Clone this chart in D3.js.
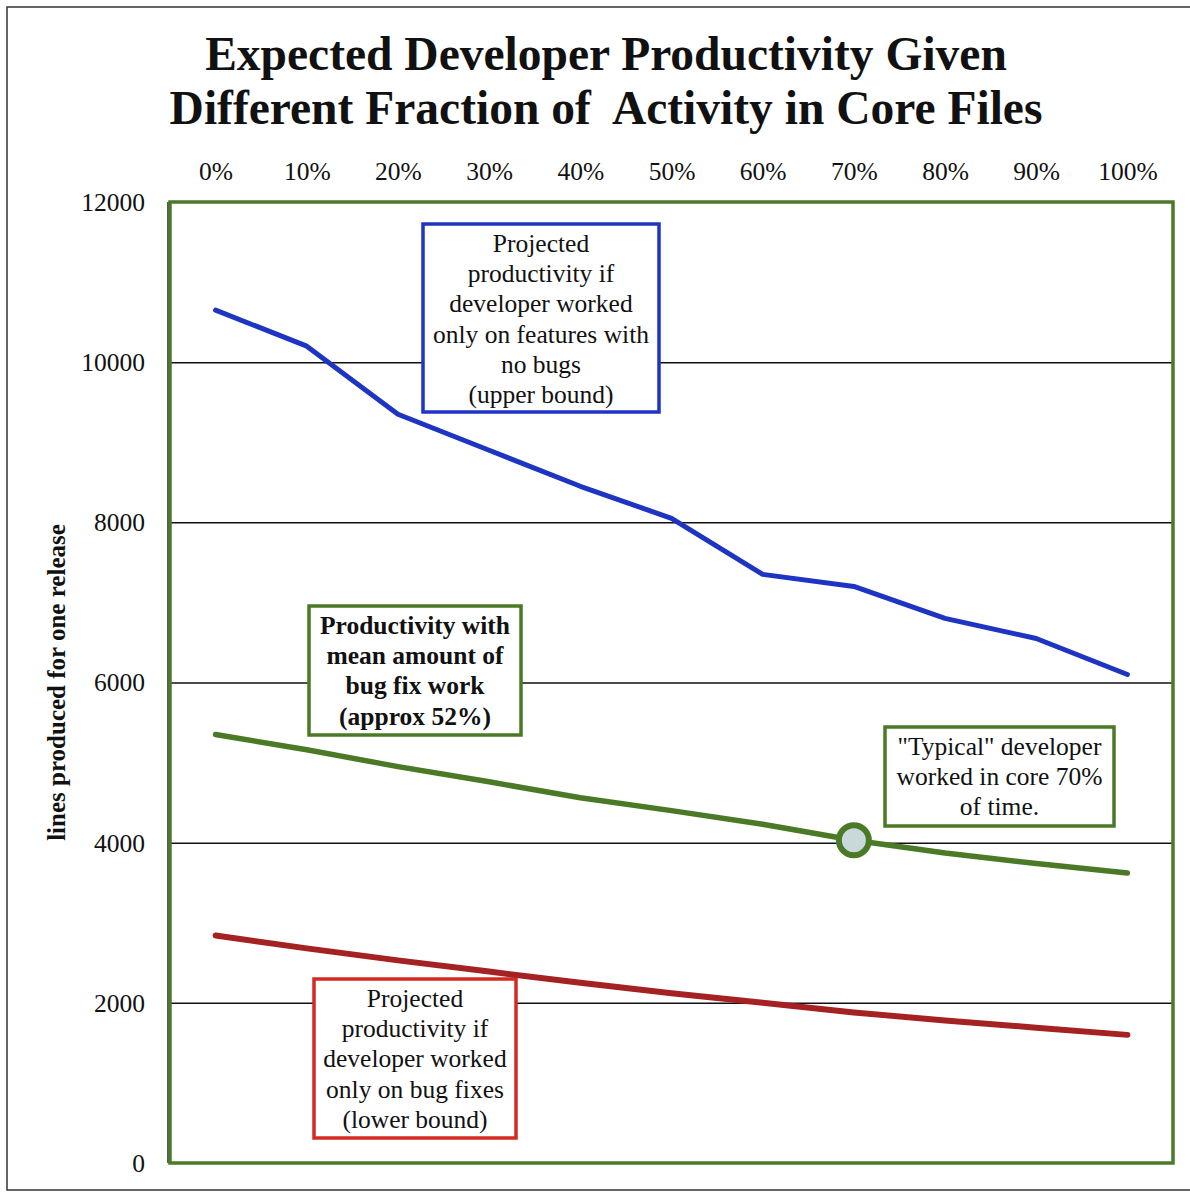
<!DOCTYPE html>
<html>
<head>
<meta charset="utf-8">
<script src="https://cdn.jsdelivr.net/npm/d3@7"></script>
<style>
  html, body { margin: 0; padding: 0; background: #fff; }
  svg { display: block; }
  text { font-family: "Liberation Serif", "DejaVu Serif", serif; fill: #111; }
</style>
</head>
<body>
<svg id="chart" width="1190" height="1192"></svg>
<script>
// ---- data ----
const categories = ["0%", "10%", "20%", "30%", "40%", "50%", "60%", "70%", "80%", "90%", "100%"];
const upperBound = [10650, 10200, 9350, 8900, 8450, 8050, 7350, 7200, 6800, 6550, 6100];
const meanProductivity = [5350, 5160, 4950, 4760, 4560, 4400, 4230, 4030, 3870, 3740, 3620];
const lowerBound = [2840, 2680, 2530, 2390, 2250, 2120, 2000, 1880, 1780, 1690, 1600];
const yTicks = [0, 2000, 4000, 6000, 8000, 10000, 12000];
const titleLines = ["Expected Developer Productivity Given", "Different Fraction of  Activity in Core Files"];
const yLabel = "lines produced for one release";
const typicalIndex = 7;

const upperText = ["Projected", "productivity if", "developer worked", "only on features with", "no bugs", "(upper bound)"];
const meanText = ["Productivity with", "mean amount of", "bug fix work", "(approx 52%)"];
const typicalText = ["\"Typical\" developer", "worked in core 70%", "of time."];
const lowerText = ["Projected", "productivity if", "developer worked", "only on bug fixes", "(lower bound)"];

// ---- layout ----
const svg = d3.select("#chart");
const plot = { left: 170, right: 1173, top: 202, bottom: 1163 };
const colors = { blue: "#1e35c4", green: "#4b7a26", red: "#a52222", frame: "#4a7a2a" };

const x = d3.scalePoint().domain(categories).range([plot.left, plot.right]).padding(0.5);
const y = d3.scaleLinear().domain([0, 12000]).range([plot.bottom, plot.top]);

// outer frame
svg.append("rect").attr("x", 7).attr("y", 7).attr("width", 1190).attr("height", 1183)
  .attr("fill", "none").attr("stroke", "#333").attr("stroke-width", 1.5);

// title
svg.append("g").selectAll("text").data(titleLines).join("text")
  .attr("x", 606).attr("y", (d, i) => 70 + i * 54)
  .attr("text-anchor", "middle").attr("font-weight", "bold").attr("font-size", 47.5)
  .style("white-space", "pre")
  .text(d => d);

// gridlines
svg.append("g").attr("transform", `translate(${plot.left},0)`)
  .call(d3.axisLeft(y).tickValues(yTicks.filter(v => v > 0 && v < 12000)).tickSize(-(plot.right - plot.left)).tickFormat(""))
  .call(g => g.select(".domain").remove())
  .call(g => g.selectAll("line").attr("stroke", "#111").attr("stroke-width", 1.5));

// y axis labels
svg.append("g").attr("transform", `translate(${plot.left},0)`)
  .call(d3.axisLeft(y).tickValues(yTicks).tickSize(0).tickPadding(25).tickFormat(d => d))
  .call(g => g.select(".domain").remove())
  .call(g => g.selectAll("text").attr("font-size", 25.5).attr("font-family", "Liberation Serif").attr("fill", "#111").attr("dy", "0.33em"));

// x axis labels (top)
svg.append("g").attr("transform", `translate(0,${plot.top})`)
  .call(d3.axisTop(x).tickSize(0).tickPadding(22))
  .call(g => g.select(".domain").remove())
  .call(g => g.selectAll("text").attr("font-size", 25.5).attr("font-family", "Liberation Serif").attr("fill", "#111"));

// y axis title
svg.append("text")
  .attr("transform", `translate(65,${(plot.top + plot.bottom) / 2}) rotate(-90)`)
  .attr("text-anchor", "middle").attr("font-weight", "bold").attr("font-size", 25)
  .text(yLabel);

// plot border
svg.append("line").attr("x1", plot.left - 2).attr("x2", plot.left - 2).attr("y1", plot.top).attr("y2", plot.bottom)
  .attr("stroke", "#222").attr("stroke-width", 1.5);
svg.append("rect").attr("x", plot.left).attr("y", plot.top)
  .attr("width", plot.right - plot.left).attr("height", plot.bottom - plot.top)
  .attr("fill", "none").attr("stroke", colors.frame).attr("stroke-width", 3.5);

// lines
const line = d3.line().x((d, i) => x(categories[i])).y(d => y(d));
const series = [
  { values: upperBound, color: colors.blue, width: 5 },
  { values: meanProductivity, color: colors.green, width: 5.5 },
  { values: lowerBound, color: colors.red, width: 6 }
];

// annotation boxes
function box(lines, x0, y0, w, h, color, bold) {
  const g = svg.append("g");
  g.append("rect").attr("x", x0).attr("y", y0).attr("width", w).attr("height", h)
    .attr("fill", "#fff").attr("stroke", color).attr("stroke-width", 3.5);
  g.selectAll("text").data(lines).join("text")
    .attr("x", x0 + w / 2).attr("y", (d, i) => y0 + 28 + i * 30.2)
    .attr("text-anchor", "middle").attr("font-size", bold ? 25.5 : 25.5)
    .attr("font-weight", bold ? "bold" : "normal")
    .text(d => d);
  return g;
}

box(upperText, 423, 224, 236, 188, colors.blue, false);
box(meanText, 309, 606, 212, 129, colors.green, true);
box(typicalText, 885, 727, 229, 99, colors.green, false);
box(lowerText, 314, 979, 202, 159, "#d42a22", false);

svg.append("g").selectAll("path").data(series).join("path")
  .attr("d", d => line(d.values))
  .attr("fill", "none").attr("stroke", d => d.color).attr("stroke-width", d => d.width)
  .attr("stroke-linecap", "round").attr("stroke-linejoin", "round");

// typical developer marker
svg.append("circle")
  .attr("cx", x(categories[typicalIndex])).attr("cy", y(meanProductivity[typicalIndex]))
  .attr("r", 15).attr("fill", "#c9d8dc").attr("stroke", colors.green).attr("stroke-width", 6);
</script>
</body>
</html>
